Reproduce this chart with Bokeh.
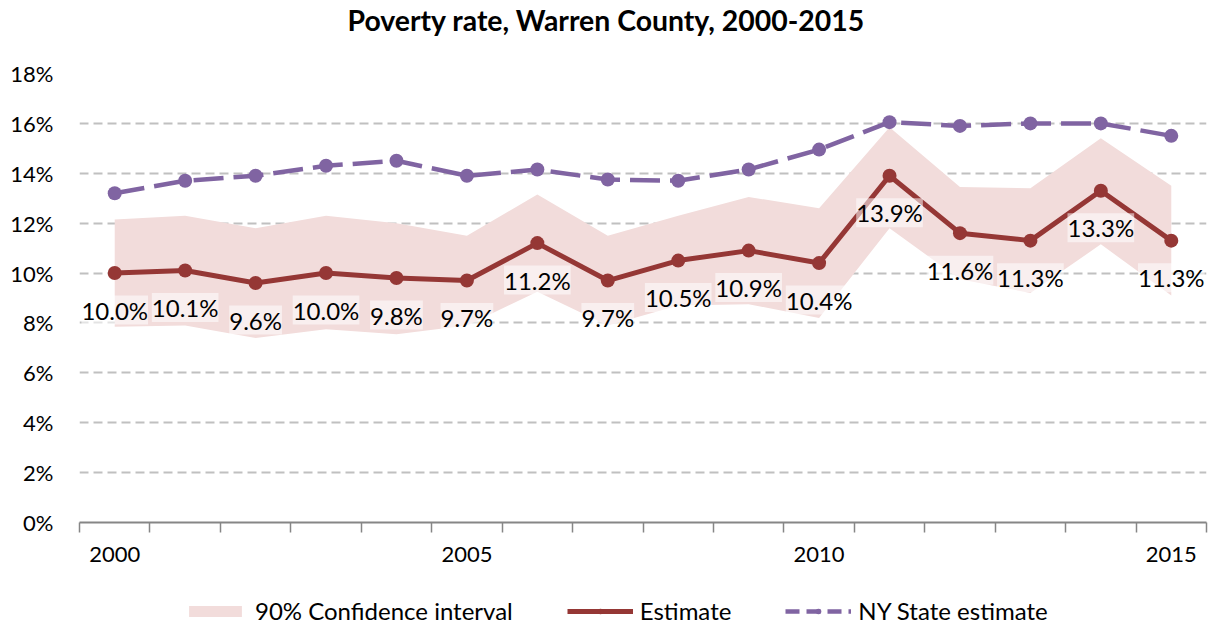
from bokeh.plotting import figure
from bokeh.layouts import column
from bokeh.models import (ColumnDataSource, FixedTicker, LabelSet, Legend,
                          LegendItem, Range1d, Title)
from bokeh.core.properties import value
from bokeh.embed import file_html
from bokeh.resources import INLINE

# ---- data ----
years = list(range(2000, 2016))
estimate = [10.0, 10.1, 9.6, 10.0, 9.8, 9.7, 11.2, 9.7, 10.5, 10.9, 10.4, 13.9, 11.6, 11.3, 13.3, 11.3]
ci_upper = [12.15, 12.3, 11.8, 12.3, 12.0, 11.5, 13.15, 11.5, 12.3, 13.05, 12.6, 15.85, 13.45, 13.4, 15.4, 13.5]
ci_lower = [7.85, 7.9, 7.4, 7.75, 7.55, 7.9, 9.25, 7.9, 8.7, 8.75, 8.2, 11.8, 9.75, 9.2, 11.15, 9.1]
ny_state = [13.2, 13.7, 13.9, 14.3, 14.5, 13.9, 14.15, 13.75, 13.7, 14.15, 14.95, 16.05, 15.9, 16.0, 16.0, 15.5]
y_ticks = [0, 2, 4, 6, 8, 10, 12, 14, 16, 18]
x_label_years = [2000, 2005, 2010, 2015]
title_text = "Poverty rate, Warren County, 2000-2015"
legend_labels = ["90% Confidence interval", "Estimate", "NY State estimate"]

FONT = "Lato"
EST_COLOR = "#953735"
NY_COLOR = "#8064A2"
BAND_COLOR = "#F2DCDB"
NY_DASH = "30 10"

p = figure(frame_width=1127, frame_height=449,
           x_range=Range1d(years[0] - 0.5, years[-1] + 0.5),
           y_range=Range1d(y_ticks[0], y_ticks[-1]), output_backend="svg",
           toolbar_location=None, min_border_left=79, min_border_right=6,
           min_border_top=73, min_border_bottom=56)
p.outline_line_color = None
p.background_fill_color = "white"
p.border_fill_color = "white"

# spacer between title and frame
p.add_layout(Title(text=" ", text_font_size="2px", standoff=29), "above")

# title
p.title.text = title_text
p.title.align = "left"
p.title.offset = 268
p.title.vertical_align = "top"
p.title.standoff = 4
p.title.text_font = FONT
p.title.text_font_size = "28.4px"
p.title.text_font_style = "bold"
p.title.text_color = "black"

# grid
p.xgrid.grid_line_color = None
p.ygrid.grid_line_color = "#C0C0C0"
p.ygrid.grid_line_width = 2
p.ygrid.grid_line_dash = "9 5"

# y axis
p.yaxis.ticker = FixedTicker(ticks=y_ticks)
p.yaxis.major_label_overrides = {t: f"{t}%" for t in y_ticks}
p.yaxis.axis_line_color = None
p.yaxis.major_tick_line_color = None
p.yaxis.major_tick_out = 0
p.yaxis.minor_tick_line_color = None
p.yaxis.major_label_standoff = 26
p.yaxis.major_label_text_font = FONT
p.yaxis.major_label_text_font_size = "22px"
p.yaxis.major_label_text_color = "black"

# x axis
boundaries = [years[0] - 0.5 + i for i in range(len(years) + 1)]
p.xaxis.ticker = FixedTicker(ticks=x_label_years, minor_ticks=boundaries)
p.xaxis.axis_line_color = "#868686"
p.xaxis.axis_line_width = 2
p.xaxis.major_tick_line_color = None
p.xaxis.major_tick_out = 0
p.xaxis.major_tick_in = 0
p.xaxis.minor_tick_line_color = "#868686"
p.xaxis.minor_tick_line_width = 1.5
p.xaxis.minor_tick_in = 0
p.xaxis.minor_tick_out = 10
p.xaxis.major_label_standoff = 14
p.xaxis.major_label_text_font = FONT
p.xaxis.major_label_text_font_size = "22px"
p.xaxis.major_label_text_color = "black"

src = ColumnDataSource(dict(x=years, est=estimate, lo=ci_lower, hi=ci_upper, ny=ny_state,
                            lab=[f"{v:.1f}%" for v in estimate]))

p.varea(x="x", y1="lo", y2="hi", source=src, fill_color=BAND_COLOR)
p.line("x", "ny", source=src, line_color=NY_COLOR, line_width=4.5, line_dash=NY_DASH)
p.scatter("x", "ny", source=src, size=14, fill_color=NY_COLOR, line_color=None)
p.line("x", "est", source=src, line_color=EST_COLOR, line_width=5)
p.scatter("x", "est", source=src, size=14, fill_color=EST_COLOR, line_color=None)

labels = LabelSet(x="x", y="est", text="lab", source=src, y_offset=-37,
                  text_align="center", text_baseline="middle",
                  text_font=value(FONT), text_font_size="24px", text_color="black",
                  background_fill_color="white", background_fill_alpha=0.55)
p.add_layout(labels)

# ---- legend strip below the chart (its renderers use the same data, out of view) ----
lf = figure(width=1212, height=47, x_range=Range1d(0, 1), y_range=Range1d(0, 1),
            x_axis_type=None, y_axis_type=None, output_backend="svg",
            toolbar_location=None, min_border=0)
lf.outline_line_color = None
lf.xgrid.grid_line_color = None
lf.ygrid.grid_line_color = None
lg_band = lf.varea(x="x", y1="lo", y2="hi", source=src, fill_color=BAND_COLOR)
lg_est_l = lf.line("x", "est", source=src, line_color=EST_COLOR, line_width=5)
lg_est_p = lf.scatter("x", "est", source=src, size=14, fill_color=EST_COLOR, line_color=None)
lg_ny_l = lf.line("x", "ny", source=src, line_color=NY_COLOR, line_width=4.5, line_dash="14 7")
lg_ny_p = lf.scatter("x", "ny", source=src, size=14, fill_color=NY_COLOR, line_color=None)

legend = Legend(items=[LegendItem(label=legend_labels[0], renderers=[lg_band]),
                       LegendItem(label=legend_labels[1], renderers=[lg_est_l, lg_est_p], index=0),
                       LegendItem(label=legend_labels[2], renderers=[lg_ny_l, lg_ny_p], index=0)],
                orientation="horizontal", location=(103, 0), glyph_width=66, glyph_height=14,
                label_text_font=FONT, label_text_font_size="24px", label_text_color="black",
                spacing=54, label_standoff=7, border_line_color=None,
                background_fill_alpha=0, margin=0, padding=0)
lf.add_layout(legend, "center")

layout = column(p, lf, spacing=0)
open("out.html", "w").write(file_html(layout, INLINE))
